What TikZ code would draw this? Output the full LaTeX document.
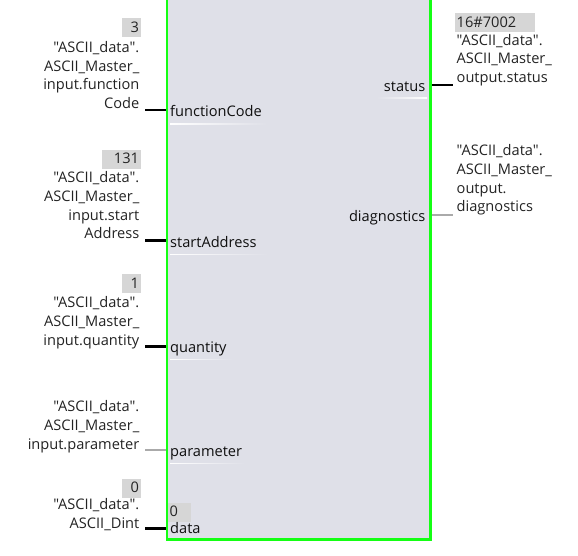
\documentclass[tikz,border=0pt]{standalone}
\usepackage{fontspec}
\setmainfont{Open Sans}[Ligatures=TeXOff]
\usetikzlibrary{positioning,backgrounds}
\definecolor{fbgreen}{RGB}{20,255,20}
\definecolor{fbfill}{RGB}{223,224,232}
\definecolor{valgray}{RGB}{214,214,214}
\definecolor{txtgray}{RGB}{35,35,35}
\definecolor{pintxt}{RGB}{15,15,15}
\definecolor{wiregray}{RGB}{170,170,170}

\begin{document}
\begin{tikzpicture}[x=1pt, y=-1pt,
    fblock/.style={draw=fbgreen, fill=fbfill, line width=2.7pt, inner sep=0pt, outer sep=0pt, minimum width=263.3pt, minimum height=560pt},
    src/.style={align=right, inner sep=0pt, text=txtgray, font=\fontsize{14.6}{18.7}\selectfont},
    dst/.style={align=left, inner sep=0pt, text=txtgray, font=\fontsize{14.6}{18.7}\selectfont},
    pinlbl/.style={inner sep=0pt, text=pintxt, font=\fontsize{14.6}{18.7}\selectfont},
    valbox/.style={fill=valgray, inner xsep=1.5pt, inner ysep=0pt, text height=14pt, text depth=5pt, text=txtgray, font=\fontsize{14.6}{18.7}\selectfont},
    wire/.style={line width=2.5pt, black},
    wireoff/.style={line width=2.5pt, wiregray},
    ulineL/.style={left color=white, right color=fbfill},
    ulineR/.style={left color=fbfill, right color=white}
]
    \clip (0,0) rectangle (578,556);

    % function block
    \node[fblock, anchor=south west] (fb) at (167,539.7) {};

    % inputs
    \node[src, anchor=base east] (fcsrc) at (139.5,108.5) {"ASCII\_data".\\ASCII\_Master\_\\input.function\\Code};
    \node[valbox, text width=15.5pt, align=right, anchor=base east] (fcval) at (140.7,32.3) {3};
    \node[pinlbl, anchor=base west] (fcpin) at (170,117) {functionCode};
    \coordinate (fcin) at (145,110);

    \node[src, anchor=base east] (sasrc) at (139.5,238.7) {"ASCII\_data".\\ASCII\_Master\_\\input.start\\Address};
    \node[valbox, text width=36pt, align=right, anchor=base east] (saval) at (140.7,164) {131};
    \node[pinlbl, anchor=base west] (sapin) at (170,247) {startAddress};
    \coordinate (sain) at (145,240.5);

    \node[src, anchor=base east] (qtsrc) at (139.5,345) {"ASCII\_data".\\ASCII\_Master\_\\input.quantity};
    \node[valbox, text width=15.5pt, align=right, anchor=base east] (qtval) at (140.7,288) {1};
    \node[pinlbl, anchor=base west] (qtpin) at (170,352.5) {quantity};
    \coordinate (qtin) at (145,346.5);

    \node[src, anchor=base east] (pmsrc) at (139.5,449) {"ASCII\_data".\\ASCII\_Master\_\\input.parameter};
    \node[pinlbl, anchor=base west] (pmpin) at (170,456) {parameter};
    \coordinate (pmin) at (145,450);

    \node[src, anchor=base east] (dtsrc) at (139.5,528.5) {"ASCII\_data".\\ASCII\_Dint};
    \node[valbox, text width=15.5pt, align=right, anchor=base east] (dtval) at (140.7,492.7) {0};
    \node[valbox, text width=20pt, align=left, anchor=base west] (dtcur) at (168,516.5) {0};
    \node[pinlbl, anchor=base west] (dtpin) at (170,533) {data};
    \coordinate (dtin) at (145,528.5);

    % outputs
    \node[pinlbl, anchor=base east] (stpin) at (425.5,91.5) {status};
    \node[dst, anchor=base west] (stdst) at (456.5,82.7) {"ASCII\_data".\\ASCII\_Master\_\\output.status};
    \node[valbox, text width=77pt, align=left, anchor=base west] (stval) at (455,27.3) {16\#7002};
    \coordinate (stout) at (453.3,85);

    \node[pinlbl, anchor=base east] (dgpin) at (425.5,221.7) {diagnostics};
    \node[dst, anchor=base west] (dgdst) at (456.5,211.7) {"ASCII\_data".\\ASCII\_Master\_\\output.\\diagnostics};
    \coordinate (dgout) at (453.3,215);

    % pin underlines
    \fill[ulineL] (170,123.8) rectangle (267,124.7);
    \fill[ulineL] (170,254) rectangle (268,254.9);
    \fill[ulineL] (170,359) rectangle (232,359.9);
    \fill[ulineL] (170,463) rectangle (245,463.9);
    \fill[ulineR] (377,97.4) rectangle (427,98.3);

    % wires
    \begin{scope}[on background layer]
        \draw[wire] (fcin) -- (fcin -| fb.west);
        \draw[wire] (sain) -- (sain -| fb.west);
        \draw[wire] (qtin) -- (qtin -| fb.west);
        \draw[wireoff] (pmin) -- (pmin -| fb.west);
        \draw[wire] (dtin) -- (dtin -| fb.west);
        \draw[wire] (fb.east |- stout) -- (stout);
        \draw[wireoff] (fb.east |- dgout) -- (dgout);
    \end{scope}
\end{tikzpicture}
\end{document}
